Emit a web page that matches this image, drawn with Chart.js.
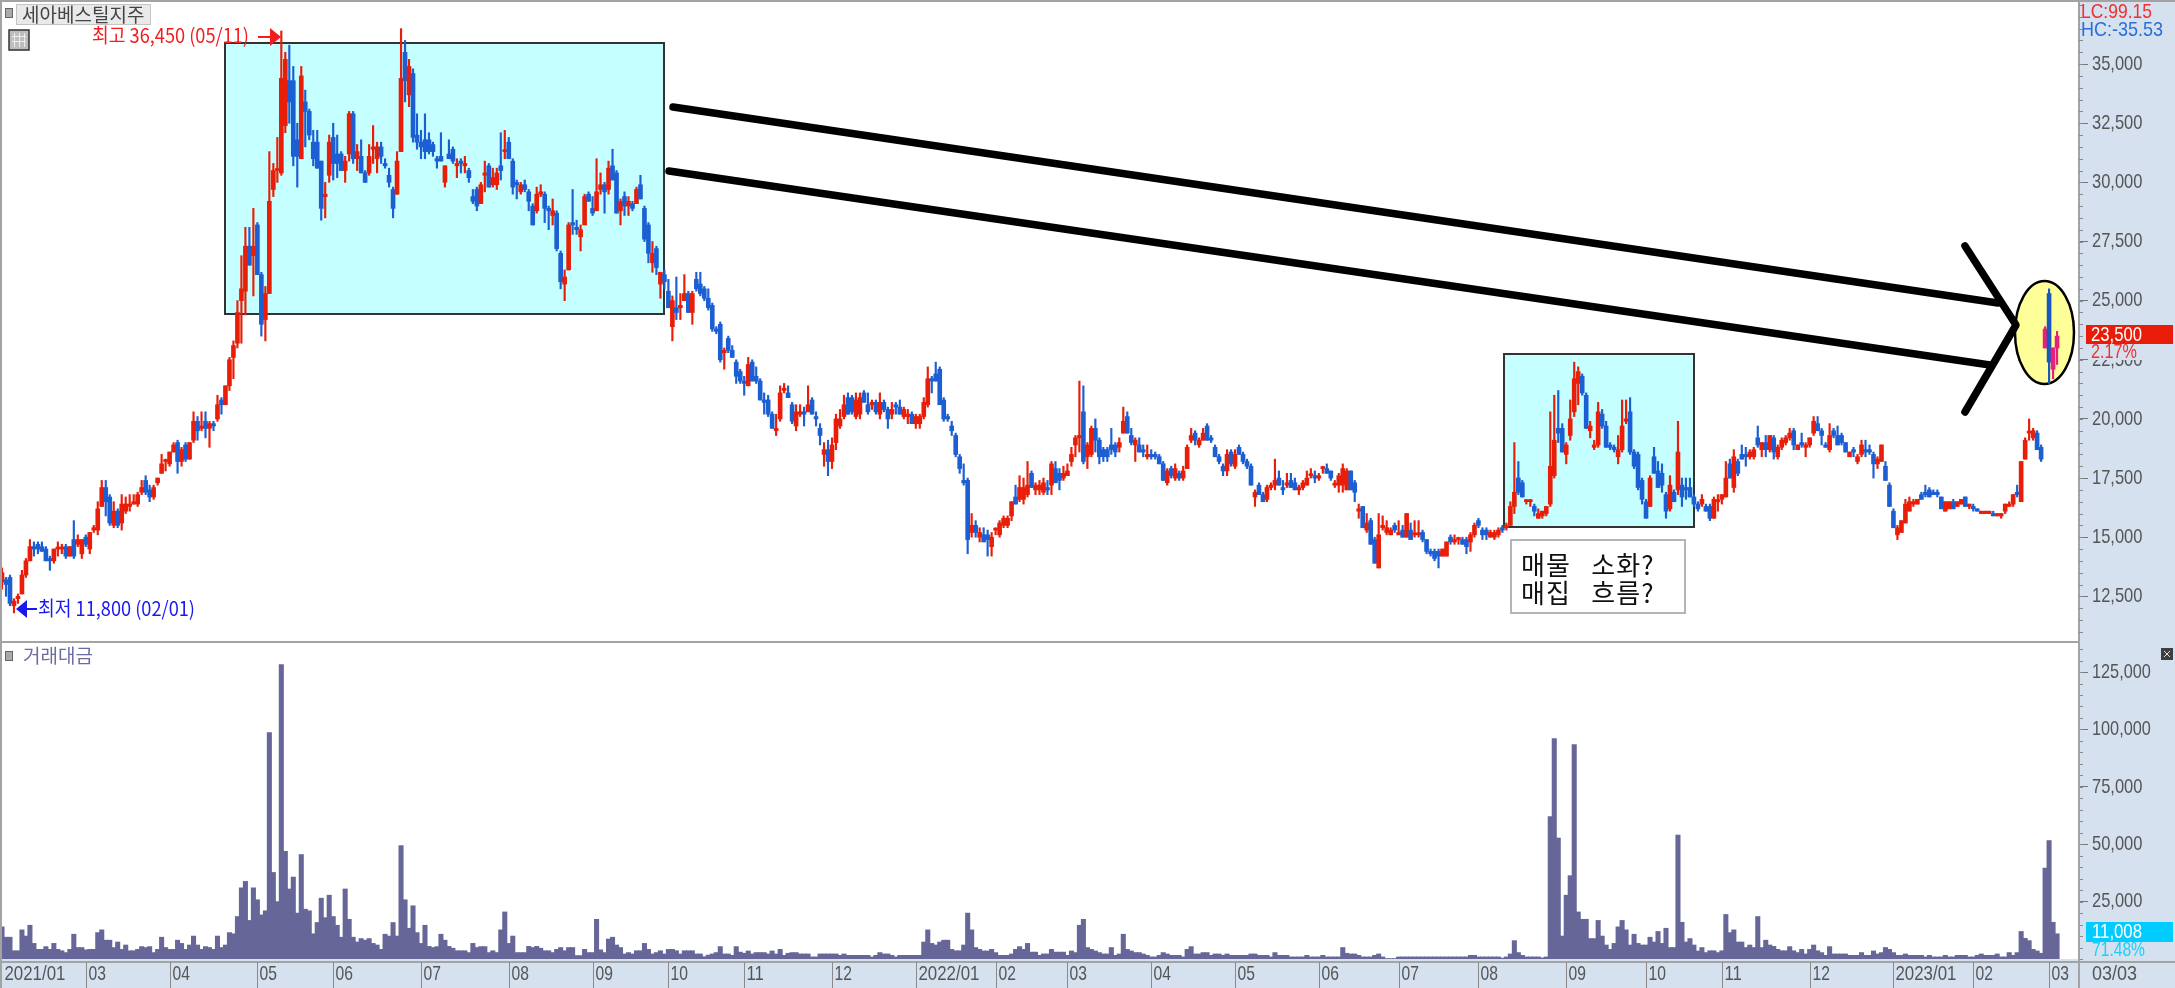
<!DOCTYPE html>
<html>
<head>
<meta charset="utf-8">
<title>세아베스틸지주</title>
<script src="https://cdn.jsdelivr.net/npm/chart.js@4/dist/chart.umd.min.js"></script>
<style>
    html, body { margin: 0; padding: 0; background: #fff; overflow: hidden; }
    canvas { position: absolute; left: 0; }
    #priceChart { top: 0; }
    #volumeChart { top: 643px; }
</style>
</head>
<body>
<canvas id="priceChart" width="2175" height="643"></canvas>
<canvas id="volumeChart" width="2175" height="345"></canvas>
<script>
// Daily candles: [open, high, low, close], in units of 100 won
const candles2021a = [
    [131,137,128,135],[132,133,125,130],[133,134,121,122],[121,124,118,123],[124,126,122,125],
    [126,136,126,134],[134,141,133,140],[140,149,140,146],[146,148,142,145],[147,148,143,145],
    [146,148,144,144],[145,146,140,140],[141,142,136,140],[140,145,139,145],[145,148,142,145],
    [145,147,143,145],[146,147,141,142],[142,146,142,146],[149,157,141,142],[147,151,146,149],
    [143,149,141,149],[150,151,146,147],[145,152,143,152],[153,155,152,154],[153,165,151,162],
    [163,174,163,171],[171,174,159,165],[167,168,155,156],[155,165,154,161],[161,162,154,155],
    [156,168,153,164],[161,167,160,164],[163,168,161,164],[164,168,164,165],[164,169,163,168],
    [169,174,168,171],[174,176,168,169],[170,172,165,167],[167,172,166,171],[173,175,172,175],
    [177,185,177,181],[182,183,178,182],[181,186,180,186],[186,190,186,189],[190,191,177,182],
    [182,188,180,187],[189,190,182,183],[183,190,183,190],[191,203,190,199],[199,201,191,195],
    [196,203,195,197],[199,203,192,196],[196,199,188,198],[198,199,195,197],[200,210,199,206],
    [208,209,202,206],[206,214,206,214],[214,226,212,225],[226,233,217,231],[232,250,230,245],
    [250,269,232,255],[254,281,244,273],[273,281,265,265],[269,289,252,273],[282,283,261,261],
    [261,262,235,240],[242,256,233,253],[253,313,253,292],[297,308,294,305],[305,319,300,305],
    [304,364,303,344],[324,355,321,352],[343,358,325,334],[343,349,307,311],[318,325,298,311],
    [310,349,310,345],[334,339,315,330],[330,331,318,320],[317,322,307,310],[317,322,306,306],
    [309,309,284,289],[294,300,285,295],[303,320,300,317],[319,325,301,308],[312,320,302,308],
    [312,313,305,305],[305,311,300,309],[312,330,309,329],[329,330,308,310],[310,316,305,313],
    [311,318,304,304],[304,305,300,300],[304,316,303,311],[314,324,308,315],[310,317,304,315],
    [315,317,308,311],[308,310,306,307],[303,306,298,300],[297,298,285,289],[295,313,295,309],
    [313,365,313,344],[355,360,334,343],[337,352,332,349],[346,348,317,319],[320,329,314,317],
    [317,322,310,315],[318,329,310,313],[318,321,312,313],[316,317,311,313],[310,311,306,309],
    [311,321,309,309],[300,307,298,307],[312,318,310,310],[314,315,308,309],[307,310,302,308],
    [309,310,304,308],[307,311,304,308],[305,306,300,302],[294,297,291,292],[297,298,288,290],
    [291,300,291,299],[303,309,296,304],[307,308,298,298],[299,306,298,302],[299,306,297,304],
    [307,321,301,305],[313,322,310,313],[317,319,310,310],[309,310,295,298],[300,301,293,299]
];
const candles2021b = [
    [296,300,295,299],[299,301,296,297],[296,297,288,292],[290,291,282,282],[288,298,287,295],
    [295,299,294,296],[295,296,283,289],[289,290,280,288],[286,293,282,288],[287,288,271,272],
    [270,271,255,258],[257,263,250,260],[263,283,263,282],[283,297,278,282],[281,284,278,280],
    [277,282,271,280],[282,295,282,294],[295,296,292,292],[289,294,286,287],[288,310,288,296],
    [297,304,295,299],[299,300,287,296],[297,309,295,306],[307,314,301,301],[304,305,287,287],
    [288,293,282,292],[294,296,286,290],[290,294,286,292],[291,292,288,289],[291,298,291,297],
    [299,303,293,293],[289,290,275,276],[282,283,266,270],[266,275,262,270],[272,273,261,264],
    [257,262,251,262],[261,263,255,258],[254,259,247,247],[239,252,233,250],[247,260,242,245],
    [247,253,242,248],[250,261,250,253],[253,254,245,245],[245,254,240,253],[259,262,254,255],
    [257,262,252,253],[255,256,250,251],[251,255,246,247],[248,249,237,238],[238,239,236,237],
    [240,241,224,225],[228,230,221,229],[234,235,228,229],[229,231,226,226],[224,225,215,218],
    [220,221,215,216],[216,218,210,215],[214,226,214,223],[224,225,216,216],[218,222,215,216],
    [216,217,208,208],[208,211,202,207],[208,210,201,202],[202,203,196,196],[195,202,193,196],
    [200,214,199,211],[212,215,211,213],[211,214,209,209],[206,207,198,199],[197,206,195,203],
    [202,206,201,203],[203,205,197,202],[203,214,203,206],[208,209,202,202],[201,203,197,200],
    [196,198,189,193],[185,190,180,187],[187,191,176,182],[182,192,179,189],[190,202,187,200],
    [197,204,196,200],[201,210,200,206],[209,211,202,202],[209,210,202,203],[201,211,200,208],
    [202,211,200,209],[211,212,207,207],[206,211,202,203],[206,208,204,207],[207,208,202,203],
    [202,211,200,207],[207,208,203,204],[204,205,196,200],[202,207,200,204],[206,207,202,205],
    [205,208,202,202],[201,205,200,204],[201,204,198,202],[202,203,198,198],[198,202,196,201],
    [198,202,196,201],[201,209,200,207],[206,222,205,217],[217,218,211,216],[219,224,216,216],
    [221,222,206,206],[208,209,199,200],[201,202,199,200],[197,199,193,195],[193,194,184,185],
    [184,185,177,179],[174,181,172,173],[174,175,143,149]
];
const candles2022a = [
    [152,160,150,155],[155,157,150,152],[150,154,148,152],[151,154,148,148],[151,153,142,149],
    [146,152,142,150],[153,154,151,153],[151,157,150,156],[155,159,154,158],[155,159,154,158],
    [159,165,157,165],[167,172,164,164],[166,176,165,171],[166,175,164,171],[168,182,167,172],
    [177,178,171,171],[170,173,168,172],[170,174,168,172],[169,175,168,173],[171,174,168,170],
    [172,182,168,181],[179,182,173,173],[177,179,170,174],[175,180,174,177],[176,181,176,178],
    [182,188,180,185],[189,193,184,192],[192,216,186,193],[203,214,181,182],[184,190,179,189],
    [185,197,184,196],[196,200,186,191],[191,192,181,184],[187,188,182,184],[187,188,182,184],
    [189,196,185,187],[189,190,184,186],[188,192,186,190],[194,205,194,199],[201,203,194,194],
    [193,196,189,190],[189,192,182,191],[189,192,186,186],[187,189,184,186],[184,189,183,185],
    [185,187,183,184],[185,186,183,184],[184,185,181,181],[181,182,174,174],[173,179,172,178],
    [179,180,175,176],[175,181,174,179],[177,178,174,175],[175,180,174,178],[179,189,179,188],
    [191,196,190,193],[194,195,189,191],[189,192,188,191],[191,196,191,194],[197,198,191,191],
    [192,193,190,191],[188,189,184,184],[184,185,181,182],[180,181,176,178],[178,187,176,185],
    [186,187,180,181],[180,187,179,185],[188,189,185,185],[185,186,181,182],[182,183,179,180],
    [180,181,172,172],[167,170,163,169],[172,173,168,168],[168,169,165,165],[166,172,165,171],
    [171,173,170,172],[172,183,170,174],[175,178,172,172],[171,174,168,170]
];
const candles2022b = [
    [172,177,171,173],[174,177,171,171],[173,175,170,170],[170,172,168,171],[171,174,170,173],
    [172,178,172,175],[176,179,175,176],[176,178,173,175],[175,177,174,176],[179,180,177,179],
    [179,181,177,177],[178,178,174,175],[172,174,171,172],[172,177,169,176],[172,181,169,179],
    [170,179,170,178],[178,178,170,170],[173,174,165,169],[161,164,158,162],[163,163,154,154],
    [153,160,152,156],[157,158,147,147],[149,150,139,139],[137,160,137,151],[154,159,153,155],
    [152,157,151,154],[151,154,151,153],[155,156,152,153],[151,157,151,152],[153,155,150,150],
    [150,160,150,160],[153,156,149,149],[151,157,150,151],[151,157,150,151],[152,153,148,149],
    [149,149,143,144],[144,145,142,143],[144,145,140,141],[144,145,137,142],[142,145,142,145],
    [142,148,142,148],[150,151,147,148],[148,151,147,149],[149,150,147,149],[149,150,147,147],
    [149,150,143,146],[148,152,144,151],[151,156,150,155],[157,158,154,155],[153,154,149,151],
    [153,154,149,151],[150,153,150,152],[150,153,149,152],[151,154,150,153],[154,155,152,153],
    [154,156,153,155],[155,165,155,163],[163,190,160,169],[175,182,168,169],[173,174,167,167],
    [165,166,164,165],[165,166,163,165],[163,164,159,161],[158,162,158,160],[159,161,158,161],
    [160,163,159,163],[164,203,163,180]
];
const candles2022c = [
    [176,210,175,191],[196,212,190,194],[196,198,186,186],[185,190,181,189],[193,208,191,200],
    [203,224,201,217],[215,222,206,220],[218,219,210,211],[210,211,196,196],[195,199,192,197],
    [188,191,187,189],[189,207,188,203],[202,204,196,197],[197,199,188,188],[189,190,187,188],
    [188,189,186,187],[184,193,181,187],[187,208,186,197],[199,208,198,200],[203,209,185,186],
    [186,187,179,180],[185,186,170,171],[174,175,164,166],[165,166,158,158],[163,176,163,175],
    [184,188,177,177],[178,182,171,171],[177,181,169,172],[168,169,158,161],[162,176,161,172],
    [169,170,165,165],[170,199,168,186],[172,175,163,167],[171,175,166,170],[171,175,167,167],
    [167,168,163,164],[164,165,161,162],[164,168,163,166],[163,164,161,161],[163,164,157,158],
    [158,167,158,166],[165,168,161,165],[166,168,164,168],[167,182,167,175],[181,183,175,175],
    [171,187,169,184],[182,183,176,177],[185,189,183,183],[185,188,180,184],[184,187,183,186],
    [184,188,183,187],[192,197,188,189],[187,190,184,190],[190,193,184,187],[187,193,186,193],
    [192,193,183,186],[184,189,183,188],[188,192,187,191],[190,193,189,192],[192,196,191,194],
    [195,196,187,189],[187,189,187,189],[190,194,188,189],[188,190,184,189],[189,192,188,192],
    [194,201,193,199],[198,201,195,195],[195,196,189,193],[189,190,188,188],[187,198,186,193],
    [195,196,192,193],[193,197,189,189],[193,194,189,190],[190,190,186,186],[184,186,184,186],
    [187,188,184,186],[182,185,181,184],[185,191,184,189],[187,191,184,186],[187,189,185,186],
    [185,186,175,181],[181,184,179,183],[182,189,182,189],[180,182,174,174],[172,173,163,163],
    [161,162,154,154],[151,155,149,154],[152,157,152,157],[156,166,156,164],[161,167,161,165],
    [164,166,163,165],[164,166,164,166],[168,169,166,166],[169,172,167,168],[170,171,167,167],
    [169,170,168,168],[169,170,167,168],[167,167,162,162],[161,165,161,165],[162,165,162,165],
    [165,166,162,162],[163,165,163,165],[164,166,164,166],[167,167,163,163],[163,164,162,164],
    [163,164,161,162],[162,162,161,161],[160,161,160,161],[160,161,160,161],[160,161,160,161],
    [160,161,159,159],[159,160,159,160],[159,160,158,160],[161,164,160,164],[163,165,163,164],
    [164,168,163,168],[169,172,167,168],[165,182,165,182],[183,192,183,191],[194,200,191,194],
    [192,196,191,195],[194,195,187,187],[188,189,182,183],[230,239,230,238],[253,255,215,224],
    [221,230,217,230],[230,237,223,235]
];
// Daily trading value in units of 1,000
const volumes = [
    14,9.5,9.5,3.6,3.6,12.7,10,14.7,6.8,4.2,
    4.2,5.4,4.2,6.8,4.2,3.6,2.8,4.2,10.8,5,
    5,4,4.2,4.2,11.5,12.7,8.2,8.2,5,7.4,
    4.2,6.1,3.6,3.6,4.2,5.4,5,5.4,2.8,4.2,
    9.5,5,4.2,4.2,8.2,6.8,4.2,6.1,10,6.1,
    4.2,5.4,5,4.2,10,5,6.1,11.5,11,18.5,
    31,33.8,16.8,31,25.8,19.2,21,98.6,37.7,25,
    128.2,46.9,30.5,35.7,20,45.5,21.7,21,11,15.9,
    26.5,18,27.8,18.5,14.7,9.5,30.5,17.3,9.5,7.4,
    8.9,8.2,8.9,6.8,6.1,4.2,10.8,10,15.9,10,
    49.4,25.8,13.4,23.2,11.5,6.8,14.7,5.5,5,5.4,
    10.8,8.2,5.5,4.7,3.6,3.6,3.6,2.8,6.8,5,
    5.4,5.4,2.8,3.6,2.8,12.7,20.5,6.8,10,2.8,
    2.8,2.8,5.5,5,5.5,4.7,3.6,3.6,2.8,4.2,
    5,3.6,5,5,1.5,1.5,4.2,2.8,2.8,17.3,
    4,2.8,8.7,9.5,6.1,5,2.2,2.8,2.2,3.6,
    3.6,6.8,4.2,2.2,2.8,3.6,2.2,4.2,4.2,3.6,
    2.2,3.6,3.6,3.6,2.2,2.2,1,1.7,2.2,2.8,
    5.4,2.2,2.2,1.6,5.4,3,2.5,3.5,2.2,2.8,
    2.8,2.8,2.2,3.5,2.2,4.2,1.6,2.5,2.8,2.8,
    2.2,2.2,2.2,.9,.9,2.2,2.2,2.2,2.2,2.2,
    1.6,2.2,1.6,1.6,1.6,1.6,1.6,1.6,.9,1.6,
    2.8,2.2,2.2,1.6,.9,1.6,1.6,1.6,1.6,1.6,
    1.6,7.4,12.7,6.8,6.1,7.4,8.2,8.2,4.2,3.6,
    3.6,6.1,20,12.7,5,4.2,3.5,3.5,4.2,2.8,
    1.6,1.6,1.6,2.2,4.2,5.4,4.2,6.8,3,3,
    1.6,2.2,2.2,4.2,3,3,3,1.6,3.5,2.8,
    14.7,17.3,5,4.2,3.5,2.8,2.2,2.2,5,1.6,
    2.2,10.8,4.2,3.5,2.8,2.8,2.2,1.6,.9,.9,
    1.6,2.8,2.2,1.6,1.6,1.6,.9,4.2,5.4,2.2,
    2.2,2.8,2.8,1.6,2.2,2.2,1.6,2.2,1.6,1.6,
    1.6,1.6,1.6,2.2,2.2,1.6,1.6,1.6,.9,2.8,
    1.6,1.6,1.6,.9,.9,.9,.9,1.6,.9,.9,
    .9,1.6,.9,.9,.9,.9,5,2.5,2.2,2.2,
    1.6,.9,.9,.9,1.6,2.2,.9,.2,.2,.2,
    .9,.9,.9,.9,.9,.9,.9,.9,.9,.9,
    .9,.9,.9,.9,.9,.9,.9,.9,1.6,1.6,
    .9,.9,.9,.9,.9,.9,.4,.9,2.2,8,
    2.8,1.6,.9,.9,.9,.9,.5,.9,62,96,
    52.7,10,27.8,36.3,93.4,20.5,17.3,17.3,8.9,8.9,
    16.8,10,6.1,4.2,6.8,14,16.8,12.7,6.1,10.8,
    6.8,6.1,6.1,9.5,7.4,12,6.8,13.4,5,5,
    54,16,7.4,8.9,6.1,3.5,5,2.8,3.6,3.6,
    2.8,3.6,19.4,11.5,12.7,7.4,7.4,5,6.1,5,
    18.5,5,8.2,6.1,5.5,4.2,3.6,3.6,5.4,3.6,
    2.8,4.2,2.2,4.2,6.1,3.6,2.8,1.6,5.4,2.2,
    2.2,2.2,2.2,1.6,1.6,1.6,2.8,1.6,1.6,3.5,
    2.2,2.8,5,4.2,2.8,1.6,1.6,2.2,1.6,1.6,
    1.6,1.6,.9,1.6,.9,.9,.9,1.6,.9,.9,
    1.6,1.6,1.6,.9,.9,1.6,2.2,1.6,1.6,1.6,
    2.2,.9,.9,2.8,1.6,2.8,12,9,8,4.2,
    3.5,2.5,39.6,51.6,16,11
];
const priceTicks = [12500, 15000, 17500, 20000, 22500, 25000, 27500, 30000, 32500, 35000];
const volumeTicks = [25000, 50000, 75000, 100000, 125000];
const monthBars = [0, 21, 42, 64, 83, 105, 127, 148, 167, 186, 208, 229, 249, 267, 288, 309, 330, 350, 370, 392, 412, 431, 453, 474, 494, 513];
const monthLabels = ['2021/01', '03', '04', '05', '06', '07', '08', '09', '10', '11', '12', '2022/01', '02', '03', '04', '05', '06', '07', '08', '09', '10', '11', '12', '2023/01', '02', '03'];

const candles = [...candles2021a, ...candles2021b, ...candles2022a, ...candles2022b, ...candles2022c];
const opens = candles.map(c => c[0] * 100);
const highs = candles.map(c => c[1] * 100);
const lows = candles.map(c => c[2] * 100);
const closes = candles.map(c => c[3] * 100);

// a few empty slots keep the gap between the last bar and the axis
const barSlots = Array.from({ length: 521 }, (_, i) => i);
const axisWidth = 96;
const latin = '"Liberation Sans", sans-serif';
const hangul = '"Noto Sans CJK KR", sans-serif';
const axisBg = '#d5e1ef';
const axisLine = '#a3a3a3';
const firstCircled = candles.length - 4;

const candleColors = closes.map((c, i) => {
    if (i >= firstCircled) return c >= opens[i] ? '#e6207c' : '#1b58bd';
    return c >= opens[i] ? '#e81e08' : '#1c5fd2';
});

Chart.defaults.animation = false;

function fitRightAxis(scale) {
    scale.width = axisWidth;
    scale.paddingTop = 0;
    scale.paddingBottom = 0;
}

function drawMinorTicks(ctx, scale, step) {
    ctx.strokeStyle = '#8a8a8a';
    ctx.lineWidth = 1;
    ctx.beginPath();
    for (let v = Math.ceil(scale.min / step) * step; v <= scale.max; v += step) {
        const y = Math.round(scale.getPixelForValue(v)) + 0.5;
        ctx.moveTo(scale.left, y);
        ctx.lineTo(scale.left + 4, y);
    }
    ctx.stroke();
}

function text(ctx, str, x, y, font, color, maxWidth) {
    ctx.font = font;
    ctx.fillStyle = color;
    ctx.textAlign = 'left';
    ctx.textBaseline = 'middle';
    if (maxWidth) ctx.fillText(str, x, y, maxWidth);
    else ctx.fillText(str, x, y);
}

// the terminal's font is condensed, so axis text is squeezed to its width
function axisText(ctx, str, x, y, color) {
    const w = str.length * (str.includes(',') ? 8.4 : 8.7);
    text(ctx, str, x, y, `21px ${latin}`, color || '#555', w);
}

function drawValueLabels(ctx, scale) {
    scale.ticks.forEach((t, i) => {
        axisText(ctx, t.label, scale.left + 13, scale.getPixelForTick(i));
    });
}

function line(ctx, points) {
    ctx.beginPath();
    points.forEach((p, i) => (i ? ctx.lineTo(p[0], p[1]) : ctx.moveTo(p[0], p[1])));
    ctx.stroke();
}

function arrowHead(ctx, tipX, y, dir) {
    ctx.beginPath();
    ctx.moveTo(tipX, y);
    ctx.lineTo(tipX - dir * 11, y - 9);
    ctx.lineTo(tipX - dir * 11, y + 9);
    ctx.closePath();
    ctx.fill();
}

const priceDecor = {
    id: 'priceDecor',
    beforeDraw(chart) {
        const ctx = chart.ctx;
        ctx.fillStyle = axisBg;
        ctx.fillRect(chart.chartArea.right, 0, axisWidth, chart.height);
    },
    beforeDatasetsDraw(chart) {
        const ctx = chart.ctx;
        ctx.save();
        // highlighted zones and the circle sit behind the candles
        ctx.strokeStyle = '#333';
        ctx.lineWidth = 2;
        ctx.fillStyle = '#c6ffff';
        ctx.fillRect(225, 43, 439, 271);
        ctx.strokeRect(225, 43, 439, 271);
        ctx.fillRect(1504, 354, 190, 173);
        ctx.strokeRect(1504, 354, 190, 173);
        ctx.beginPath();
        ctx.ellipse(2044.5, 332.5, 29.5, 51.5, 0, 0, Math.PI * 2);
        ctx.fillStyle = '#ffff99';
        ctx.fill();
        ctx.strokeStyle = '#000';
        ctx.lineWidth = 2.5;
        ctx.stroke();
        ctx.restore();
    },
    afterDatasetsDraw(chart) {
        const ctx = chart.ctx;
        ctx.save();
        ctx.strokeStyle = '#000';
        ctx.lineWidth = 7.5;
        ctx.lineCap = 'round';
        ctx.lineJoin = 'round';
        line(ctx, [[673, 107], [1998, 303]]);
        line(ctx, [[669, 171], [1990, 365]]);
        line(ctx, [[1965, 246], [2016, 325], [1965, 412]]);
        ctx.restore();
    },
    afterDraw(chart) {
        const ctx = chart.ctx;
        const yScale = chart.scales.y;
        ctx.save();
        drawMinorTicks(ctx, yScale, 500);
        drawValueLabels(ctx, yScale);

        // frame
        ctx.fillStyle = axisLine;
        ctx.fillRect(0, 0, chart.width, 2);
        ctx.fillRect(0, 0, 2, chart.height);
        ctx.fillRect(0, 641, 2079, 2);

        // stock name button
        ctx.fillStyle = '#aaa';
        ctx.fillRect(6, 9, 6, 8);
        ctx.strokeStyle = '#666';
        ctx.lineWidth = 1;
        ctx.strokeRect(5.5, 8.5, 7, 9);
        ctx.fillStyle = '#e9e9e9';
        ctx.fillRect(16, 4, 135, 21);
        ctx.strokeStyle = '#c4c4c4';
        ctx.strokeRect(16.5, 4.5, 134, 20);
        text(ctx, '세아베스틸지주', 22, 15, `19px ${hangul}`, '#444', 125);

        // table icon
        ctx.fillStyle = '#bdbdbd';
        ctx.fillRect(9, 30, 20, 20);
        ctx.strokeStyle = '#333';
        ctx.lineWidth = 1.5;
        ctx.strokeRect(9, 30, 20, 20);
        ctx.strokeStyle = '#eee';
        ctx.lineWidth = 1;
        [14.5, 19.5, 24.5].forEach(x => line(ctx, [[x, 33], [x, 47]]));
        [36.5, 41.5].forEach(y => line(ctx, [[12, y], [26, y]]));

        // high and low notes
        text(ctx, '최고 36,450 (05/11)', 92, 35, `20px ${hangul}`, '#f41c1c', 157);
        ctx.strokeStyle = '#f41c1c';
        ctx.lineWidth = 2;
        line(ctx, [[258, 37], [272, 37]]);
        ctx.fillStyle = '#f41c1c';
        arrowHead(ctx, 281, 37, 1);
        text(ctx, '최저 11,800 (02/01)', 38, 608, `20px ${hangul}`, '#1818f0', 157);
        ctx.strokeStyle = '#1818f0';
        line(ctx, [[25, 609], [37, 609]]);
        ctx.fillStyle = '#1818f0';
        arrowHead(ctx, 16, 609, -1);

        // question box
        ctx.fillStyle = '#fff';
        ctx.fillRect(1511, 540, 174, 73);
        ctx.strokeStyle = '#b5b5b5';
        ctx.lineWidth = 2;
        ctx.strokeRect(1511, 540, 174, 73);
        ctx.letterSpacing = '1px';
        text(ctx, '매물   소화?', 1521, 565, `26px ${hangul}`, '#111', 155);
        text(ctx, '매집   흐름?', 1521, 593, `26px ${hangul}`, '#111', 155);
        ctx.letterSpacing = '0px';

        // right side read-outs
        text(ctx, 'LC:99.15', 2081, 12, `21px ${latin}`, '#f03030', 71);
        text(ctx, 'HC:-35.53', 2081, 30, `21px ${latin}`, '#2a6fd8', 82);
        ctx.fillStyle = '#e81c08';
        ctx.fillRect(2086, 325, 87, 19);
        text(ctx, '23,500', 2091, 335, `21px ${latin}`, '#fff', 51);
        ctx.fillStyle = axisBg;
        ctx.fillRect(2088, 344, 85, 16);
        text(ctx, '2.17%', 2091, 352, `21px ${latin}`, '#f03030', 46);
        ctx.restore();
    }
};

const volumeDecor = {
    id: 'volumeDecor',
    beforeDraw(chart) {
        const ctx = chart.ctx;
        const area = chart.chartArea;
        ctx.fillStyle = axisBg;
        ctx.fillRect(area.right, 0, axisWidth, chart.height);
        ctx.fillRect(0, area.bottom, chart.width, chart.height - area.bottom);
    },
    afterDraw(chart) {
        const ctx = chart.ctx;
        const area = chart.chartArea;
        const xScale = chart.scales.x;
        ctx.save();
        drawMinorTicks(ctx, chart.scales.y, 5000);
        drawValueLabels(ctx, chart.scales.y);

        ctx.fillStyle = axisLine;
        ctx.fillRect(0, 0, 2, chart.height);
        ctx.fillRect(0, area.bottom + 2, chart.width, 2);
        ctx.fillRect(area.right - 1, 0, 2, chart.height);

        // month separators and labels in the date strip
        ctx.strokeStyle = '#8a8a8a';
        ctx.lineWidth = 1;
        xScale.ticks.forEach((t, i) => {
            const x = Math.round(xScale.getPixelForTick(i)) + 0.5;
            if (i > 0) line(ctx, [[x, area.bottom + 3], [x, chart.height]]);
            axisText(ctx, t.label, x + 2, area.bottom + 15);
        });

        ctx.fillStyle = '#aaa';
        ctx.fillRect(6, 9, 6, 8);
        ctx.strokeStyle = '#666';
        ctx.strokeRect(5.5, 8.5, 7, 9);
        text(ctx, '거래대금', 23, 13, `19px ${hangul}`, '#6c6ca3', 70);

        ctx.fillStyle = '#3f3f3f';
        ctx.fillRect(2161, 5, 12, 12);
        ctx.strokeStyle = '#ddd';
        line(ctx, [[2164, 8], [2170, 14]]);
        line(ctx, [[2170, 8], [2164, 14]]);

        ctx.fillStyle = '#00ccff';
        ctx.fillRect(2086, 279, 87, 20);
        text(ctx, '11,008', 2092, 289, `21px ${latin}`, '#fff', 50);
        text(ctx, '71.48%', 2092, 307, `21px ${latin}`, '#19cfff', 53);
        text(ctx, '03/03', 2092, 331, `21px ${latin}`, '#555', 45);
        ctx.restore();
    }
};

new Chart(document.getElementById('priceChart').getContext('2d'), {
    type: 'bar',
    data: {
        labels: barSlots,
        datasets: [
            {
                data: lows.map((l, i) => [l, highs[i]]),
                backgroundColor: candleColors,
                barThickness: 1.5,
                grouped: false,
                order: 2
            },
            {
                data: opens.map((o, i) => [o, closes[i]]),
                backgroundColor: candleColors,
                barThickness: 4,
                minBarLength: 2,
                grouped: false,
                order: 1
            }
        ]
    },
    options: {
        responsive: false,
        layout: { padding: 0 },
        plugins: { legend: { display: false }, tooltip: { enabled: false } },
        scales: {
            x: { display: false, offset: true },
            y: {
                position: 'right',
                min: 10527,
                max: 37710,
                afterFit: fitRightAxis,
                afterBuildTicks: scale => { scale.ticks = priceTicks.map(value => ({ value })); },
                border: { color: axisLine, width: 2 },
                grid: { drawOnChartArea: false, tickLength: 9, tickColor: '#777' },
                ticks: {
                    display: false,
                    callback: value => value.toLocaleString('en-US')
                }
            }
        }
    },
    plugins: [priceDecor]
});

new Chart(document.getElementById('volumeChart').getContext('2d'), {
    type: 'bar',
    data: {
        labels: barSlots,
        datasets: [{
            data: volumes.map(v => v * 1000),
            backgroundColor: '#666699',
            barThickness: 4.4
        }]
    },
    options: {
        responsive: false,
        layout: { padding: 0 },
        plugins: { legend: { display: false }, tooltip: { enabled: false } },
        scales: {
            x: {
                offset: true,
                afterFit: scale => {
                    scale.height = 29;
                    scale.paddingLeft = 0;
                    scale.paddingRight = 0;
                },
                afterBuildTicks: scale => { scale.ticks = monthBars.map(value => ({ value })); },
                border: { display: false },
                grid: { display: false, offset: false },
                ticks: {
                    display: false,
                    autoSkip: false,
                    maxRotation: 0,
                    callback: (value, index) => monthLabels[index]
                }
            },
            y: {
                position: 'right',
                min: 0,
                max: 137650,
                afterFit: fitRightAxis,
                afterBuildTicks: scale => { scale.ticks = volumeTicks.map(value => ({ value })); },
                border: { color: axisLine, width: 2 },
                grid: { drawOnChartArea: false, tickLength: 9, tickColor: '#777' },
                ticks: {
                    display: false,
                    callback: value => value.toLocaleString('en-US')
                }
            }
        }
    },
    plugins: [volumeDecor]
});
</script>
</body>
</html>
